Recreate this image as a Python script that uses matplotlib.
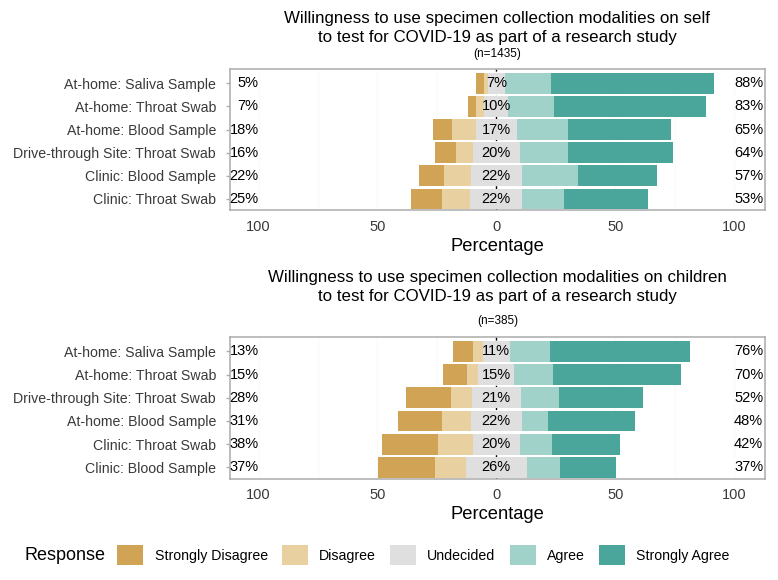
"""Diverging likert bars: willingness to use specimen collection modalities."""

import matplotlib.pyplot as plt
import numpy as np
from matplotlib.patches import Patch

plt.rcParams["font.family"] = ["Liberation Sans", "DejaVu Sans"]

responses = ["Strongly Disagree", "Disagree", "Undecided", "Agree", "Strongly Agree"]
colors = ["#D0A454", "#E8D0A0", "#DFDFDF", "#A0D2CA", "#4AA69A"]

# self panel, top row first; columns follow `responses`
self_items = [
    "At-home: Saliva Sample",
    "At-home: Throat Swab",
    "At-home: Blood Sample",
    "Drive-through Site: Throat Swab",
    "Clinic: Blood Sample",
    "Clinic: Throat Swab",
]
self_pct = np.array([
    [3.4, 1.6, 7.0, 19.4, 68.6],
    [3.2, 3.6, 10.0, 19.4, 63.8],
    [8.0, 9.9, 17.1, 21.4, 43.6],
    [9.1, 6.8, 20.0, 20.0, 44.1],
    [10.5, 11.2, 21.5, 23.4, 33.4],
    [13.0, 11.8, 22.0, 17.6, 35.2],
])
self_n = 1435

# children panel
child_items = [
    "At-home: Saliva Sample",
    "At-home: Throat Swab",
    "Drive-through Site: Throat Swab",
    "At-home: Blood Sample",
    "Clinic: Throat Swab",
    "Clinic: Blood Sample",
]
child_pct = np.array([
    [8.8, 4.0, 11.2, 16.9, 59.1],
    [10.0, 5.0, 15.0, 16.5, 53.5],
    [19.0, 8.8, 20.6, 16.0, 35.6],
    [18.5, 12.2, 21.7, 10.8, 36.8],
    [23.6, 14.4, 19.9, 13.3, 28.8],
    [24.0, 13.0, 25.6, 13.9, 23.5],
])
child_n = 385

W, H = 778, 580
AX_LEFT, AX_RIGHT = 230, 765


def draw_likert(ax, items, pct):
    """Stack the five response levels around zero, splitting Undecided."""

    y = np.arange(len(items))
    sd, d, u, a, sa = pct.T
    starts = [-(u / 2 + d + sd), -(u / 2 + d), -u / 2, u / 2, u / 2 + a]
    for k in range(5):
        ax.barh(y, pct[:, k], left=starts[k], height=0.9, color=colors[k],
                edgecolor="none", zorder=2)

    for xv in np.arange(-100, 101, 25):
        ax.axvline(xv, color="#FAFAFA", lw=0.8, zorder=0.5)
    # zero line sits under the bars, so it only shows in the gaps
    ax.axvline(0, color="black", lw=1.0, ls=(0, (2.5, 2.5)), zorder=1)

    for i in y:
        ax.text(-100, i, f"{round(sd[i] + d[i])}%", ha="right", va="center",
                fontsize=10.5, zorder=4)
        ax.text(0, i, f"{round(u[i])}%", ha="center", va="center",
                fontsize=10.5, zorder=4)
        ax.text(100, i, f"{round(a[i] + sa[i])}%", ha="left", va="center",
                fontsize=10.5, zorder=4)

    ax.set_xlim(-112, 113)
    ax.set_ylim(5.5, -0.62)
    ax.set_yticks(y)
    ax.set_yticklabels(items, fontsize=10.2, color="#3A3A3A")
    ax.set_xticks([-100, -50, 0, 50, 100])
    ax.set_xticklabels(["100", "50", "0", "50", "100"], fontsize=10.5, color="#3A3A3A")
    ax.tick_params(axis="x", length=0, pad=6.5)
    ax.tick_params(axis="y", length=3, color="#B0B0B0", width=1, pad=7)
    for spine in ax.spines.values():
        spine.set_color("#ABABAB")
        spine.set_linewidth(1.1)
    ax.set_xlabel("Percentage", fontsize=13.2, labelpad=3)


def px_axes(fig, top, bottom):
    return fig.add_axes([AX_LEFT / W, 1 - bottom / H, (AX_RIGHT - AX_LEFT) / W,
                         (bottom - top) / H])


fig = plt.figure(figsize=(W / 100, H / 100), dpi=100)
cx = (AX_LEFT + AX_RIGHT) / 2 / W

ax_top = px_axes(fig, 69, 210.5)
draw_likert(ax_top, self_items, self_pct)
fig.text(cx, 1 - 28 / H,
         "Willingness to use specimen collection modalities on self\n"
         "to test for COVID-19 as part of a research study",
         ha="center", va="center", fontsize=12.2, linespacing=1.3)
fig.text(cx, 1 - 54.5 / H, f"(n={self_n})", ha="center", va="center", fontsize=8.5)

ax_bot = px_axes(fig, 337, 479)
draw_likert(ax_bot, child_items, child_pct)
fig.text(cx, 1 - 287 / H,
         "Willingness to use specimen collection modalities on children\n"
         "to test for COVID-19 as part of a research study",
         ha="center", va="center", fontsize=12.2, linespacing=1.3)
fig.text(cx, 1 - 321 / H, f"(n={child_n})", ha="center", va="center", fontsize=8.5)

fig.text(25 / W, 1 - 556 / H, "Response", ha="left", va="center", fontsize=13)
handles = [Patch(facecolor=c, edgecolor="none") for c in colors]
fig.legend(handles, responses, loc="center left", bbox_to_anchor=(113 / W, 1 - 555 / H),
           ncol=5, frameon=False, fontsize=10.2, handlelength=1.85, handleheight=1.85,
           handletextpad=0.78, columnspacing=1.0, borderpad=0.3, borderaxespad=0)

fig.savefig("out.png", dpi=100)
plt.close(fig)
